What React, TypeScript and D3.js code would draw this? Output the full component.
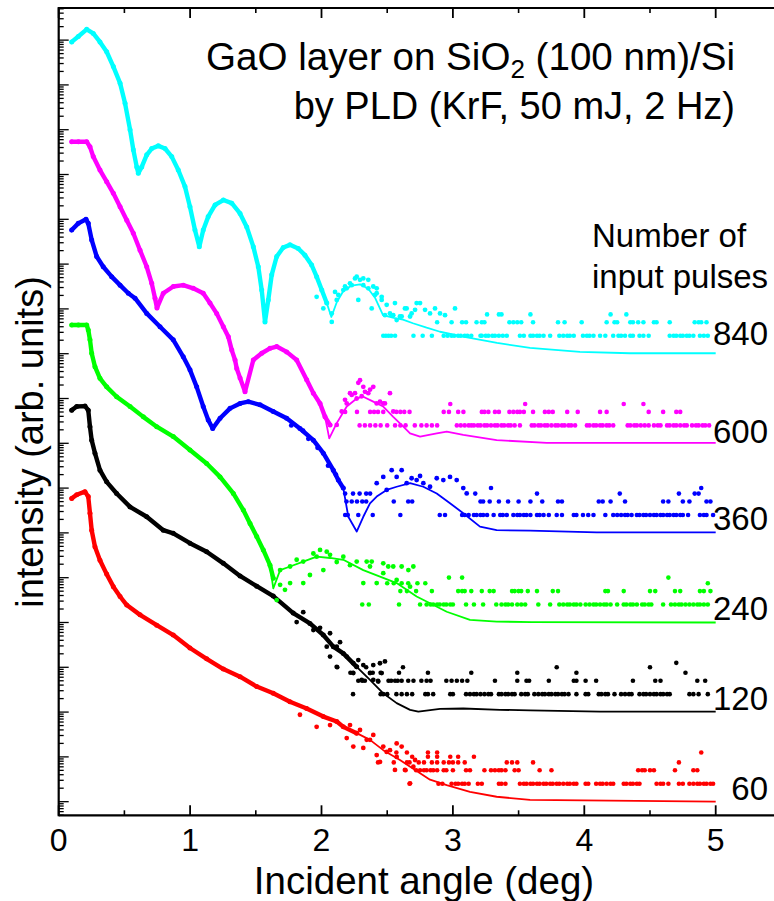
import React from 'react';
import * as d3 from 'd3';

// ---------------- DATA (x: incident angle in deg, y: log10 of plotted intensity, curves offset by 10^2 each) ----------------
const seriesLabels = ['840', '600', '360', '240', '120', '60'];
const seriesColors = ['#00ffff', '#ff00ff', '#0000ff', '#00ff00', '#000000', '#ff0000'];
// log10 of the one-count level of each (offset) curve
const oneCountLevels = [10.4, 8.4, 6.4, 4.4, 2.4, 0.4];
const xTickValues = [0, 1, 2, 3, 4, 5];
const xTickLabels = ['0', '1', '2', '3', '4', '5'];

// smooth measured traces
const trace840 = [[0.099,16.96],[0.149,17.08],[0.213,17.24],[0.263,17.15],[0.314,16.96],[0.365,16.74],[0.416,16.41],[0.467,16.04],[0.505,15.59],[0.543,15.0],[0.568,14.55],[0.594,14.17],[0.606,14.03],[0.632,14.17],[0.670,14.44],[0.708,14.58],[0.758,14.64],[0.809,14.58],[0.860,14.40],[0.910,14.10],[0.961,13.73],[0.999,13.28],[1.037,12.76],[1.070,12.39],[1.100,12.76],[1.138,13.06],[1.190,13.32],[1.253,13.43],[1.317,13.36],[1.380,13.13],[1.431,12.83],[1.481,12.39],[1.519,11.94],[1.545,11.42],[1.570,10.71],[1.595,11.20],[1.621,11.76],[1.659,12.17],[1.709,12.37],[1.760,12.43],[1.823,12.35],[1.874,12.20],[1.925,11.98],[1.963,11.72],[2.002,11.42],[2.040,11.13]];
const trace600 = [[0.099,14.73],[0.150,14.73],[0.213,14.73],[0.238,14.62],[0.263,14.40],[0.314,14.10],[0.365,13.84],[0.416,13.58],[0.467,13.28],[0.518,12.98],[0.568,12.69],[0.619,12.31],[0.670,11.94],[0.708,11.57],[0.733,11.24],[0.748,11.02],[0.796,11.35],[0.872,11.50],[0.948,11.53],[1.024,11.46],[1.100,11.35],[1.151,11.13],[1.202,10.90],[1.253,10.60],[1.291,10.38],[1.317,10.08],[1.342,9.86],[1.355,9.67],[1.380,9.46],[1.418,9.15],[1.481,9.86],[1.545,10.01],[1.608,10.12],[1.659,10.16],[1.735,10.04],[1.811,9.86],[1.887,9.42],[1.938,9.12],[1.989,8.89],[2.027,8.59],[2.065,8.41]];
const trace360 = [[0.099,12.76],[0.149,12.91],[0.208,13.00],[0.225,12.91],[0.251,12.54],[0.289,12.17],[0.339,11.94],[0.403,11.72],[0.467,11.53],[0.530,11.35],[0.581,11.24],[0.670,10.90],[0.771,10.60],[0.872,10.31],[0.948,9.93],[0.999,9.64],[1.050,9.26],[1.100,8.82],[1.138,8.52],[1.172,8.33],[1.228,8.56],[1.304,8.78],[1.380,8.89],[1.443,8.93],[1.532,8.86],[1.633,8.71],[1.735,8.56],[1.836,8.33],[1.938,8.07],[2.014,7.78],[2.090,7.40],[2.128,7.18],[2.166,7.00]];
const trace240 = [[0.099,10.64],[0.150,10.64],[0.213,10.64],[0.225,10.53],[0.238,10.31],[0.251,10.01],[0.276,9.71],[0.314,9.45],[0.365,9.26],[0.441,9.04],[0.543,8.82],[0.644,8.59],[0.746,8.37],[0.872,8.15],[0.999,7.85],[1.126,7.55],[1.228,7.25],[1.329,6.88],[1.405,6.51],[1.456,6.21],[1.507,5.92],[1.557,5.62],[1.608,5.28],[1.633,4.99]];
const trace120 = [[0.099,8.74],[0.137,8.82],[0.200,8.83],[0.225,8.74],[0.238,8.37],[0.251,8.07],[0.276,7.78],[0.314,7.40],[0.365,7.14],[0.441,6.88],[0.543,6.58],[0.670,6.36],[0.796,6.06],[0.872,5.99],[0.999,5.77],[1.126,5.58],[1.253,5.32],[1.380,5.04],[1.507,4.81],[1.633,4.59],[1.785,4.21],[1.912,3.98],[2.014,3.72],[2.090,3.46],[2.166,3.31],[2.268,3.01]];
const trace60 = [[0.099,6.77],[0.137,6.85],[0.200,6.92],[0.225,6.81],[0.238,6.44],[0.251,6.06],[0.276,5.69],[0.314,5.39],[0.365,5.08],[0.416,4.80],[0.467,4.58],[0.518,4.39],[0.619,4.17],[0.746,3.94],[0.872,3.72],[0.999,3.43],[1.126,3.19],[1.253,2.96],[1.380,2.79],[1.507,2.57],[1.633,2.42],[1.760,2.23],[1.887,2.08],[2.014,1.90],[2.116,1.79],[2.166,1.67],[2.268,1.53]];

// noisy measured points
const scatter840 = [[1.963,11.27],[2.014,11.01],[2.078,10.71],[2.078,10.90],[2.103,11.38],[2.116,11.20],[2.128,11.31],[2.166,11.42],[2.179,11.50],[2.192,11.46],[2.217,11.57],[2.230,11.53],[2.255,11.68],[2.268,11.72],[2.280,11.20],[2.293,11.65],[2.318,11.53],[2.318,11.68],[2.356,11.65],[2.356,11.46],[2.382,11.01],[2.394,11.50],[2.407,11.31],[2.420,11.35],[2.420,11.46],[2.458,11.20],[2.458,11.27],[2.483,10.86],[2.496,11.09],[2.521,10.90],[2.534,10.86],[2.546,10.86],[2.559,11.13],[2.572,10.75],[2.597,10.83],[2.610,10.83],[2.635,11.01],[2.648,11.01],[2.674,10.83],[2.686,10.90],[2.712,10.98],[2.724,11.13],[2.750,11.13],[2.788,10.98],[2.826,10.90],[2.864,11.01],[2.902,10.90],[2.940,10.86],[3.016,11.01]];
const scatter600 = [[2.116,8.41],[2.154,8.71],[2.179,8.97],[2.192,8.89],[2.217,9.12],[2.230,9.08],[2.255,9.12],[2.268,9.00],[2.293,9.41],[2.318,9.26],[2.331,9.15],[2.356,9.12],[2.394,9.26],[2.420,8.89],[2.445,8.93],[2.470,8.89],[2.483,8.89],[2.521,9.12],[2.546,8.71],[2.280,9.35],[2.306,9.05],[2.370,9.20]];
const scatter360 = [[1.77,8.40],[1.86,8.28],[1.90,8.10],[1.97,7.90],[2.05,7.50],[2.11,7.30],[2.420,7.11],[2.470,7.25],[2.496,6.96],[2.534,7.40],[2.572,7.25],[2.610,7.40],[2.648,7.11],[2.686,7.22],[2.724,7.18],[2.750,7.27],[2.775,7.11],[2.826,7.03],[2.877,7.22],[2.927,7.18],[2.978,7.25],[3.029,7.18],[3.079,7.00],[3.105,6.88]];
const scatter240 = [[1.659,4.50],[1.685,4.84],[1.685,5.17],[1.722,4.73],[1.761,4.88],[1.761,5.25],[1.811,5.40],[1.861,5.36],[1.861,4.88],[1.912,5.06],[1.938,5.54],[1.963,5.47],[1.989,5.62],[2.014,5.17],[2.040,5.58],[2.065,5.51],[2.116,5.35],[2.166,5.47],[2.217,5.28],[2.268,5.36],[2.318,4.88],[2.344,5.36],[2.369,5.25],[2.382,5.36],[2.420,4.88],[2.470,5.32],[2.470,5.10],[2.508,5.25],[2.546,5.25],[2.572,4.95],[2.610,5.25],[2.661,5.17],[2.674,4.80],[2.699,5.25]];
const scatter120 = [[1.811,4.01],[1.861,4.23],[1.938,3.83],[1.989,3.88],[2.040,3.46],[2.065,3.76],[2.065,3.24],[2.116,3.46],[2.116,3.01],[2.141,3.56],[2.192,3.24],[2.242,3.09],[2.242,2.87],[2.280,3.16],[2.306,2.72],[2.318,3.05],[2.369,2.87],[2.394,3.05],[2.394,2.72],[2.432,2.68],[2.445,3.09],[2.458,2.87],[2.483,3.13]];
const scatter60 = [[1.836,1.94],[1.963,1.67],[2.065,1.71],[2.192,1.42],[2.217,1.71],[2.242,1.23],[2.293,1.60],[2.318,1.20],[2.344,1.38],[2.369,1.38],[2.394,1.49],[2.420,1.04],[2.445,0.89],[2.470,1.23],[2.496,1.11],[2.521,1.15],[2.559,0.71],[2.572,1.30],[2.572,1.00],[2.610,1.23],[2.635,0.71],[2.674,0.41],[2.699,0.78],[2.712,0.93]];

// low-count tail: angles (deg) at which 1, 2, 3, ... counts were recorded
const tail840 = [
  [2.47,2.49,2.51,2.53,2.56,2.70,2.77,2.84,2.93,2.96,2.99,3.01,3.04,3.06,3.09,3.11,3.14,3.21,3.22,3.25,3.27,3.30,3.32,3.35,3.38,3.41,3.51,3.54,3.59,3.61,3.64,3.66,3.69,3.74,3.81,3.84,3.87,3.89,3.92,3.99,4.02,4.04,4.07,4.12,4.16,4.22,4.26,4.28,4.31,4.35,4.37,4.42,4.45,4.49,4.65,4.68,4.70,4.73,4.75,4.78,4.80,4.83,4.88,4.91,4.94],
  [2.88,2.99,3.07,3.10,3.18,3.22,3.24,3.43,3.46,3.49,3.52,3.61,3.80,3.85,3.98,4.17,4.23,4.25,4.35,4.37,4.41,4.45,4.53,4.55,4.65,4.84,4.87,4.89,4.93],
  [3.26,3.35,3.37,3.59,4.20,4.32],
];
const tail600 = [
  [2.29,2.33,2.37,2.41,2.45,2.50,2.56,2.60,2.64,2.71,2.76,2.80,2.84,2.88,3.03,3.06,3.09,3.12,3.14,3.16,3.19,3.21,3.24,3.26,3.29,3.32,3.34,3.37,3.39,3.42,3.44,3.47,3.51,3.60,3.62,3.65,3.67,3.70,3.72,3.75,3.78,3.80,3.83,3.85,3.88,3.90,3.93,4.02,4.04,4.07,4.09,4.12,4.14,4.17,4.19,4.22,4.33,4.35,4.38,4.40,4.43,4.46,4.49,4.53,4.56,4.58,4.63,4.65,4.68,4.70,4.73,4.76,4.78,4.82,4.85,4.87,4.90,4.92,4.95],
  [2.18,2.27,2.37,2.40,2.43,2.47,2.57,2.60,2.63,2.67,2.93,2.97,3.04,3.08,3.22,3.24,3.27,3.32,3.35,3.43,3.46,3.49,3.51,3.54,3.61,3.70,3.73,3.76,3.87,3.95,4.12,4.17,4.49,4.60,4.70,4.73],
  [2.98,3.55,4.30,4.45],
];
const tail360 = [
  [2.18,2.20,2.28,2.39,2.60,2.90,2.94,3.07,3.09,3.12,3.16,3.18,3.21,3.23,3.26,3.31,3.36,3.38,3.41,3.46,3.49,3.51,3.54,3.56,3.59,3.64,3.66,3.69,3.73,3.79,3.83,3.92,3.94,3.99,4.03,4.07,4.16,4.22,4.25,4.28,4.31,4.33,4.36,4.40,4.42,4.45,4.47,4.50,4.53,4.55,4.58,4.60,4.63,4.65,4.68,4.70,4.73,4.75,4.79,4.88,4.91,4.93,4.98],
  [2.19,2.23,2.27,2.31,2.34,2.55,2.66,2.69,3.21,3.23,3.28,3.35,3.42,3.50,3.59,3.68,3.80,3.83,4.11,4.14,4.20,4.31,4.60,4.64,4.75,4.80,4.93,4.96],
  [2.18,2.24,2.29,2.34,2.37,3.17,3.64,4.27,4.72,4.84,4.87],
  [3.29,4.89],
];
const tail240 = [
  [2.31,2.36,2.59,2.75,2.80,2.83,2.85,2.88,2.90,2.93,2.95,2.98,3.00,3.10,3.16,3.23,3.33,3.37,3.40,3.42,3.45,3.49,3.52,3.55,3.65,3.74,3.81,3.84,3.87,3.89,3.92,3.94,3.97,4.01,4.04,4.07,4.09,4.12,4.15,4.17,4.20,4.25,4.30,4.32,4.35,4.37,4.40,4.44,4.46,4.49,4.51,4.60,4.66,4.69,4.72,4.74,4.77,4.80,4.83,4.86,4.88,4.91,4.94],
  [2.60,2.65,2.72,2.84,3.04,3.07,3.09,3.14,3.22,3.28,3.31,3.45,3.47,3.50,3.52,3.57,3.64,3.76,3.80,4.16,4.18,4.30,4.50,4.54,4.69,4.73,4.88,4.91,4.96],
  [2.50,2.55,2.61,2.66,2.73,2.79,4.94],
  [2.97,3.07,4.64],
];
const tail120 = [
  [2.24,2.45,2.47,2.50,2.57,2.61,2.65,2.69,2.79,2.81,2.85,2.98,3.00,3.10,3.13,3.16,3.18,3.21,3.24,3.27,3.29,3.35,3.37,3.40,3.42,3.45,3.47,3.52,3.55,3.57,3.62,3.65,3.68,3.70,3.73,3.75,3.78,3.80,3.83,3.85,3.88,3.94,4.01,4.03,4.11,4.13,4.16,4.18,4.23,4.28,4.31,4.34,4.36,4.42,4.45,4.47,4.50,4.53,4.55,4.58,4.60,4.63,4.65,4.80,4.83,4.87,4.94],
  [2.28,2.31,2.33,2.43,2.51,2.53,2.56,2.58,2.61,2.66,2.70,2.76,2.80,2.83,2.95,2.99,3.03,3.07,3.11,3.32,3.49,3.56,3.58,3.73,3.92,3.94,4.01,4.09,4.37,4.54,4.58,4.86,4.92],
  [2.22,2.24,2.37,2.39,2.45,2.59,2.81,3.14,3.49,3.94,4.77],
  [2.12,2.34,2.62,3.79,4.50],
  [4.70],
];
const tail60 = [
  [2.67,2.89,2.92,2.99,3.02,3.04,3.07,3.09,3.12,3.19,3.22,3.35,3.37,3.40,3.51,3.54,3.56,3.59,3.61,3.64,3.66,3.69,3.71,3.74,3.76,3.79,3.81,3.84,3.87,3.89,3.92,3.94,4.01,4.03,4.09,4.12,4.14,4.17,4.20,4.22,4.30,4.32,4.35,4.37,4.40,4.42,4.55,4.58,4.60,4.64,4.72,4.75,4.80,4.83,4.86,4.88,4.91,4.93,4.96,4.98],
  [2.64,2.72,2.75,2.78,2.80,2.83,2.85,2.88,2.93,2.95,3.00,3.10,3.13,3.24,3.29,3.32,3.35,3.37,3.40,3.47,3.50,3.66,3.75,4.41,4.44,4.46,4.50,4.53,4.69,4.83,4.86],
  [2.43,2.55,2.65,2.67,2.74,2.78,2.84,2.88,2.93,2.97,3.00,3.04,3.09,3.41,3.45,3.49,3.61,4.72],
  [2.69,2.81,2.88,2.98,3.04,3.16],
  [2.57,2.65,2.81,2.88,4.89],
];

// simulated (fitted) curves beyond the smooth part of each trace
const fitTail840 = [[2.075,10.82],[2.116,11.15],[2.166,11.40],[2.230,11.52],[2.293,11.55],[2.356,11.45],[2.407,11.25],[2.468,10.86],[2.55,10.80],[2.62,10.76],[2.696,10.68],[2.80,10.58],[2.902,10.49],[3.077,10.38],[3.336,10.24],[3.587,10.13],[3.967,10.04],[4.348,10.01],[5.0,10.01]];
const fitTail600 = [[2.059,8.11],[2.116,8.45],[2.192,8.82],[2.268,9.00],[2.318,9.04],[2.394,8.93],[2.470,8.82],[2.546,8.59],[2.623,8.37],[2.674,8.22],[2.750,8.15],[2.877,8.22],[2.953,8.26],[3.079,8.19],[3.333,8.07],[3.714,8.01],[5.0,8.01]];
const fitTail360 = [[2.204,6.36],[2.268,6.03],[2.318,6.36],[2.369,6.66],[2.420,6.81],[2.496,6.96],[2.572,7.03],[2.674,7.11],[2.775,7.03],[2.877,6.88],[2.978,6.66],[3.079,6.44],[3.206,6.14],[3.333,6.06],[3.587,6.05],[4.094,6.01],[5.0,6.01]];
const fitTail240 = [[1.633,4.76],[1.685,5.17],[1.761,5.25],[1.861,5.36],[1.963,5.47],[2.065,5.44],[2.166,5.40],[2.318,5.17],[2.45,5.02],[2.572,4.88],[2.724,4.58],[2.826,4.43],[2.953,4.24],[3.130,4.06],[3.333,4.02],[3.6,4.01],[5.0,4.0]];
const fitTail120 = [[2.369,2.72],[2.470,2.42],[2.572,2.20],[2.674,2.05],[2.737,2.01],[2.902,2.07],[3.079,2.08],[3.359,2.05],[3.587,2.04],[4.12,2.01],[5.0,2.01]];
const fitTail60 = [[2.369,1.38],[2.470,1.15],[2.597,0.93],[2.826,0.49],[2.953,0.37],[3.130,0.22],[3.333,0.11],[3.587,0.04],[5.0,0.0]];

const traces = [trace840, trace600, trace360, trace240, trace120, trace60];
const scatters = [scatter840, scatter600, scatter360, scatter240, scatter120, scatter60];
const tails = [tail840, tail600, tail360, tail240, tail120, tail60];
const fitTails = [fitTail840, fitTail600, fitTail360, fitTail240, fitTail120, fitTail60];
const fitCutoffs = [2.04, 2.03, 2.17, 1.61, 2.27, 2.27];

const LG_MIN = -0.304;
const LG_MAX = 17.717;
const FONT = "'Liberation Sans', Arial, Helvetica, sans-serif";

export default function App() {
  const W = 774, H = 901;
  const left = 58.7, top = 8, bottom = 815.3;
  const x = d3.scaleLinear().domain([0, 5]).range([left, 715.7]);
  const y = d3.scaleLog().domain([Math.pow(10, LG_MIN), Math.pow(10, LG_MAX)]).range([bottom, top]);
  const px = (d: number[]) => x(d[0]);
  const py = (d: number[]) => y(Math.pow(10, d[1]));
  const line = d3.line<number[]>().x(px).y(py);

  const yTicks: { v: number; major: boolean }[] = [];
  const [d0, d1] = y.domain();
  for (let e = -1; e <= 18; e++) {
    for (let m = 1; m <= 9; m++) {
      const v = m * Math.pow(10, e);
      if (v >= d0 && v <= d1) yTicks.push({ v, major: m === 1 });
    }
  }
  const xMinor = d3.range(0.5, 5, 1);

  const order = [5, 4, 3, 2, 1, 0];
  const labelOffsets = [8, 0, 2, 2, 2, 2];

  return (
    <svg width={W} height={H} style={{ position: 'absolute', left: 0, top: 0, background: '#fff' }} fontFamily={FONT}>
      <rect x={0} y={0} width={W} height={H} fill="#fff" />
      {/* series */}
      {order.map((i) => {
        const color = seriesColors[i];
        const fit = [...traces[i].filter((d) => d[0] <= fitCutoffs[i]), ...fitTails[i]];
        const tailPts: number[][] = [];
        tails[i].forEach((xs, k) => xs.forEach((a) => tailPts.push([a, oneCountLevels[i] + Math.log10(k + 1)])));
        return (
          <g key={seriesLabels[i]}>
            <path d={line(traces[i]) || ''} fill="none" stroke={color} strokeWidth={4.4} strokeLinejoin="round" strokeLinecap="round" />
            {traces[i].map((d, j) => <circle key={'t' + j} cx={px(d)} cy={py(d)} r={2.5} fill={color} />)}
            {scatters[i].map((d, j) => <circle key={'s' + j} cx={px(d)} cy={py(d)} r={2.4} fill={color} />)}
            {tailPts.map((d, j) => <circle key={'p' + j} cx={px(d)} cy={py(d)} r={2.3} fill={color} />)}
            <path d={line(fit) || ''} fill="none" stroke={color} strokeWidth={1.8} strokeLinejoin="round" />
            <text x={768} y={y(Math.pow(10, fitTails[i][fitTails[i].length - 1][1])) - labelOffsets[i]} fontSize={33} textAnchor="end" fill="#000">{seriesLabels[i]}</text>
          </g>
        );
      })}

      {/* frame */}
      <g stroke="#000" fill="none">
        <line x1={left} x2={left} y1={top - 1} y2={bottom + 1} strokeWidth={2.2} />
        <line x1={left} x2={W} y1={top} y2={top} strokeWidth={2.2} />
        <line x1={left} x2={W} y1={bottom} y2={bottom} strokeWidth={2.2} />
        {xTickValues.map((v) => (
          <g key={'xt' + v}>
            <line x1={x(v)} x2={x(v)} y1={bottom} y2={bottom - 10} strokeWidth={1.8} />
            <line x1={x(v)} x2={x(v)} y1={top} y2={top + 10} strokeWidth={1.8} />
          </g>
        ))}
        {xMinor.map((v) => (
          <g key={'xm' + v}>
            <line x1={x(v)} x2={x(v)} y1={bottom} y2={bottom - 5} strokeWidth={1.6} />
            <line x1={x(v)} x2={x(v)} y1={top} y2={top + 5} strokeWidth={1.6} />
          </g>
        ))}
        {yTicks.map((t, j) => (
          <line key={'yt' + j} x1={left} x2={left + (t.major ? 10 : 5)} y1={y(t.v)} y2={y(t.v)} strokeWidth={1.3} />
        ))}
      </g>

      {/* tick labels */}
      {xTickValues.map((v, j) => (
        <text key={'xl' + v} x={x(v)} y={851} fontSize={32} textAnchor="middle" fill="#000">{xTickLabels[j]}</text>
      ))}

      {/* axis titles */}
      <text x={424} y={894} fontSize={38.5} textAnchor="middle" fill="#000">Incident angle (deg)</text>
      <text transform="translate(43,442) rotate(-90)" fontSize={38} textAnchor="middle" fill="#000">intensity (arb. units)</text>

      {/* annotations */}
      <text x={735} y={70} fontSize={38.6} textAnchor="end" fill="#000">
        GaO layer on SiO<tspan fontSize={26} dy={8}>2</tspan><tspan dy={-8}> (100 nm)/Si</tspan>
      </text>
      <text x={735} y={119} fontSize={38} textAnchor="end" fill="#000">by PLD (KrF, 50 mJ, 2 Hz)</text>
      <text x={592} y={247} fontSize={33} fill="#000">Number of</text>
      <text x={592} y={288} fontSize={33} fill="#000">input pulses</text>
    </svg>
  );
}
